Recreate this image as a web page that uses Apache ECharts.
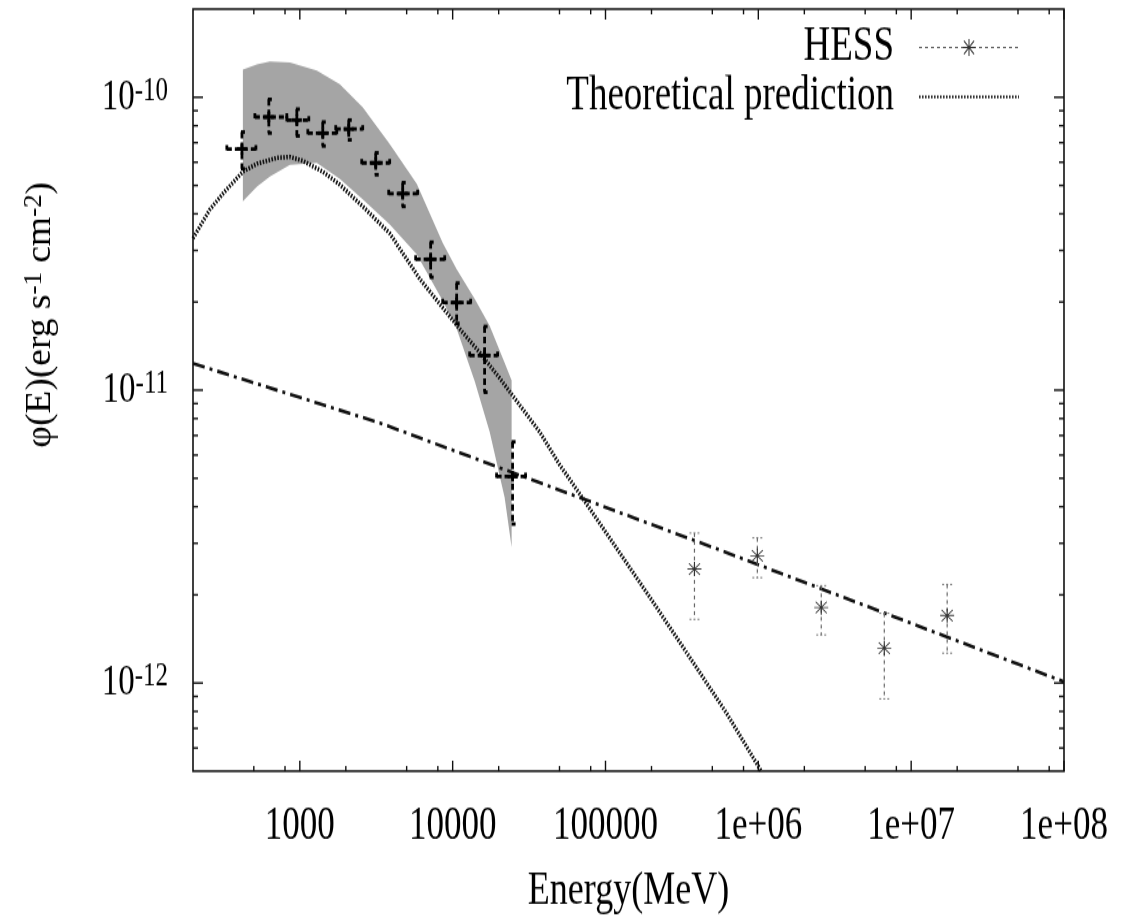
<!DOCTYPE html>
<html>
<head>
<meta charset="utf-8">
<script src="https://cdn.jsdelivr.net/npm/echarts@6/dist/echarts.min.js"></script>
<style>
  html, body { margin: 0; padding: 0; background: #fff; }
  #page { width: 1121px; height: 922px; position: relative; }
  /* the reference is stretched vertically, so draw at 1121x709 and scale up */
  #main { position: absolute; left: 0; top: 0; width: 1121px; height: 709px; transform: scaleY(1.3004); transform-origin: 0 0; }
</style>
</head>
<body>
<div id="page"><div id="main"></div></div>
<script>
// Fermi points (energy bins in MeV, flux in erg s^-1 cm^-2)
const fermiE = [418, 627, 956, 1413, 2090, 3138, 4711, 7178, 10620, 16180, 24660];
const fermiELow = [333, 508, 822, 1128, 1718, 2541, 3815, 5727, 8606, 12920, 19380];
const fermiEHigh = [516, 822, 1145, 1745, 2580, 3873, 5902, 8872, 13120, 19680, 29990];
const fermiFlux = [6.66e-11, 8.56e-11, 8.36e-11, 7.55e-11, 7.79e-11, 5.97e-11, 4.69e-11, 2.80e-11, 1.99e-11, 1.314e-11, 5.07e-12];
const fermiFluxLow = [5.70e-11, 7.55e-11, 7.38e-11, 6.82e-11, 7.15e-11, 5.44e-11, 4.24e-11, 2.43e-11, 1.69e-11, 9.84e-12, 3.49e-12];
const fermiFluxHigh = [7.61e-11, 9.84e-11, 9.11e-11, 8.23e-11, 8.36e-11, 6.46e-11, 5.11e-11, 3.20e-11, 2.32e-11, 1.65e-11, 6.66e-12];

// HESS points
const hessE = [3.82e5, 9.85e5, 2.58e6, 6.67e6, 1.72e7];
const hessFlux = [2.45e-12, 2.72e-12, 1.81e-12, 1.315e-12, 1.70e-12];
const hessFluxLow = [1.65e-12, 2.29e-12, 1.46e-12, 8.83e-13, 1.265e-12];
const hessFluxHigh = [3.25e-12, 3.13e-12, 2.15e-12, 1.73e-12, 2.17e-12];

// grey butterfly band
const bandE = [424, 524, 637, 861, 1292, 1826, 2580, 3873, 5818, 8606, 10620, 13930, 17460, 21880, 24310];
const bandHigh = [1.244e-10, 1.294e-10, 1.324e-10, 1.314e-10, 1.234e-10, 1.107e-10, 9.25e-11, 6.93e-11, 5.07e-11, 3.18e-11, 2.59e-11, 2.05e-11, 1.66e-11, 1.24e-11, 1.08e-11];
const bandLow = [4.41e-11, 4.95e-11, 5.36e-11, 5.88e-11, 5.97e-11, 5.27e-11, 4.48e-11, 3.68e-11, 2.91e-11, 2.02e-11, 1.62e-11, 1.073e-11, 7.21e-12, 4.3e-12, 2.91e-12];

// theoretical prediction (dotted)
const theoryE = [200, 258, 314, 424, 524, 708, 861, 1046, 1414, 1826, 2580, 3873, 6085, 8222, 11110, 15010, 20290, 27410, 37030, 50040, 91350, 194000, 318600, 617700, 1.047e6];
const theoryFlux = [3.30e-11, 4.14e-11, 4.69e-11, 5.57e-11, 5.93e-11, 6.21e-11, 6.26e-11, 6.07e-11, 5.57e-11, 5.03e-11, 4.24e-11, 3.43e-11, 2.40e-11, 1.97e-11, 1.62e-11, 1.345e-11, 1.099e-11, 8.90e-12, 7.21e-12, 5.57e-12, 3.52e-12, 1.97e-12, 1.335e-12, 7.91e-13, 4.99e-13];

// power law (dash-dot)
const powerE = [200, 3334, 555900, 1e8];
const powerFlux = [1.234e-11, 7.73e-12, 2.85e-12, 1.01e-12];

// tick positions
const xMajorTicks = [1000, 10000, 100000, 1e6, 1e7, 1e8];
const xMinorTicks = [500, 800, 2000, 5000, 8000, 2e4, 5e4, 8e4, 2e5, 5e5, 8e5, 2e6, 5e6, 8e6, 2e7, 5e7, 8e7];
const yMajorTicks = [1e-12, 1e-11, 1e-10];
const yMinorTicks = [6e-13, 7e-13, 8e-13, 9e-13, 2e-12, 3e-12, 4e-12, 5e-12, 6e-12, 7e-12, 8e-12, 9e-12,
  2e-11, 3e-11, 4e-11, 5e-11, 6e-11, 7e-11, 8e-11, 9e-11];

const FONT = "'Liberation Serif', 'DejaVu Serif', serif";
const ASTERISK = "path://M9.2,0L10.8,0L10.8,20L9.2,20Z M0,9.2L20,9.2L20,10.8L0,10.8Z " +
  "M1.5,2.6L2.6,1.5L18.5,17.4L17.4,18.5Z M17.4,1.5L18.5,2.6L2.6,18.5L1.5,17.4Z";

const chart = echarts.init(document.getElementById("main"));

const isDecade = (v) => {
  const l = Math.log10(v);
  return Math.abs(l - Math.round(l)) < 1e-6;
};

const line = (x1, y1, x2, y2, style) => ({ type: "line", shape: { x1, y1, x2, y2 }, style });

const option = {
  animation: false,
  backgroundColor: "#fff",
  grid: {
    left: 193,
    right: 57,
    top: 7,
    bottom: 110,
    show: true,
    borderColor: "#111",
    borderWidth: 1.6,
    backgroundColor: "transparent",
  },
  legend: {
    data: [
      { name: "HESS", lineStyle: { color: "#666", width: 1, type: [3, 3], opacity: 1 } },
      { name: "Theoretical prediction", itemStyle: { opacity: 0 } },
    ],
    orient: "vertical",
    align: "right",
    right: 101,
    top: 18,
    padding: 0,
    itemWidth: 100,
    itemHeight: 16,
    itemGap: 1,
    selectedMode: false,
    textStyle: { fontSize: 37, fontFamily: FONT, color: "#000", lineHeight: 30, padding: [0, 20, 0, 0] },
  },
  xAxis: {
    type: "log",
    logBase: 10,
    min: 200,
    max: 1e8,
    splitNumber: 6,
    axisLine: { show: false },
    axisTick: { show: false },
    splitLine: { show: false },
    axisLabel: {
      margin: 25,
      fontSize: 35,
      fontFamily: FONT,
      color: "#000",
      showMinLabel: false,
      showMaxLabel: true,
      formatter: (v) => {
        if (!isDecade(v)) return "";
        const n = Math.round(Math.log10(v));
        return n <= 5 ? String(Math.round(Math.pow(10, n))) : "1e+0" + n;
      },
    },
    name: "Energy(MeV)",
    nameLocation: "middle",
    nameGap: 75,
    nameTextStyle: { fontSize: 36, fontFamily: FONT, color: "#000" },
  },
  yAxis: {
    type: "log",
    logBase: 10,
    min: 5e-13,
    max: 2e-10,
    splitNumber: 3,
    axisLine: { show: false },
    axisTick: { show: false },
    splitLine: { show: false },
    axisLabel: {
      margin: 25,
      showMinLabel: false,
      showMaxLabel: false,
      formatter: (v) => {
        if (!isDecade(v)) return "";
        return "{b|10}{s|" + Math.round(Math.log10(v)) + "}";
      },
      rich: {
        b: { fontSize: 33, fontFamily: FONT, color: "#000", lineHeight: 34, verticalAlign: "bottom" },
        s: { fontSize: 25, fontFamily: FONT, color: "#000", lineHeight: 10, verticalAlign: "top" },
      },
    },
  },
  graphic: [
    {
      type: "text",
      x: 40,
      y: 242,
      rotation: Math.PI / 2,
      scaleX: 0.8,
      style: {
        text: "{n|φ(E)(erg s}{s|-1}{n| cm}{s|-2}{n|)}",
        align: "center",
        verticalAlign: "middle",
        rich: {
          n: { fontSize: 36, fontFamily: FONT, fill: "#000", lineHeight: 38, verticalAlign: "bottom" },
          s: { fontSize: 26, fontFamily: FONT, fill: "#000", lineHeight: 8, verticalAlign: "top" },
        },
      },
    },
  ],
  series: [
    {
      name: "band",
      type: "custom",
      z: 1,
      silent: true,
      data: bandE.map((e, i) => [e, bandLow[i], bandHigh[i]]),
      renderItem: (params, api) => {
        if (params.dataIndex !== 0) return;
        const top = bandE.map((e, i) => api.coord([e, bandHigh[i]]));
        const bottom = bandE.map((e, i) => api.coord([e, bandLow[i]])).reverse();
        return { type: "polygon", shape: { points: top.concat(bottom) }, style: { fill: "#a5a5a5" } };
      },
    },
    {
      name: "Theoretical prediction",
      type: "line",
      z: 2,
      symbol: "none",
      data: theoryE.map((e, i) => [e, theoryFlux[i]]),
      lineStyle: { color: "#111", width: 3.5, type: [1.6, 1.4] },
      itemStyle: { color: "#111" },
    },
    {
      name: "power law",
      type: "line",
      z: 2,
      symbol: "none",
      data: powerE.map((e, i) => [e, powerFlux[i]]),
      lineStyle: { color: "#111", width: 2.6, type: [12, 5, 3, 5] },
    },
    {
      name: "Fermi",
      type: "custom",
      z: 3,
      data: fermiE.map((e, i) => [e, fermiFlux[i], fermiELow[i], fermiEHigh[i], fermiFluxLow[i], fermiFluxHigh[i]]),
      renderItem: (params, api) => {
        const c = api.coord([api.value(0), api.value(1)]);
        const l = api.coord([api.value(2), api.value(1)]);
        const r = api.coord([api.value(3), api.value(1)]);
        const b = api.coord([api.value(0), api.value(4)]);
        const t = api.coord([api.value(0), api.value(5)]);
        const dashed = { stroke: "#000", lineWidth: 2.8, lineDash: [5, 3], fill: null };
        const solid = { stroke: "#000", lineWidth: 2.8, fill: null };
        return {
          type: "group",
          children: [
            line(l[0], c[1], r[0], c[1], dashed),
            line(c[0], t[1], c[0], b[1], dashed),
            line(c[0] - 5, c[1], c[0] + 5, c[1], solid),
            line(c[0], c[1] - 4, c[0], c[1] + 4, solid),
            line(l[0], c[1] - 3, l[0], c[1] + 1, solid),
            line(r[0], c[1] - 3, r[0], c[1] + 1, solid),
            line(c[0] - 1, t[1], c[0] + 3, t[1], solid),
            line(c[0] - 1, b[1], c[0] + 3, b[1], solid),
          ],
        };
      },
    },
    {
      name: "HESS bars",
      type: "custom",
      z: 3,
      data: hessE.map((e, i) => [e, hessFlux[i], hessFluxLow[i], hessFluxHigh[i]]),
      renderItem: (params, api) => {
        const b = api.coord([api.value(0), api.value(2)]);
        const t = api.coord([api.value(0), api.value(3)]);
        const st = { stroke: "#666", lineWidth: 1.2, lineDash: [3, 3], fill: null };
        const cap = { stroke: "#777", lineWidth: 1, lineDash: [2, 2], fill: null };
        return {
          type: "group",
          children: [
            line(t[0], t[1], b[0], b[1], st),
            line(t[0] - 5, t[1], t[0] + 5, t[1], cap),
            line(b[0] - 5, b[1], b[0] + 5, b[1], cap),
          ],
        };
      },
    },
    {
      name: "HESS",
      type: "line",
      z: 4,
      symbol: ASTERISK,
      symbolSize: [14, 11],
      showSymbol: true,
      data: hessE.map((e, i) => [e, hessFlux[i]]),
      itemStyle: { color: "#333" },
      lineStyle: { opacity: 0 },
    },
    {
      name: "x ticks",
      type: "custom",
      z: 5,
      silent: true,
      data: xMajorTicks.map((v) => [v, 1e-12, 1]).concat(xMinorTicks.map((v) => [v, 1e-12, 0])),
      renderItem: (params, api) => {
        const cs = params.coordSys;
        const p = api.coord([api.value(0), api.value(1)]);
        const len = api.value(2) ? 8 : 4;
        const st = { stroke: "#111", lineWidth: 1.4 };
        return {
          type: "group",
          children: [
            line(p[0], cs.y + cs.height, p[0], cs.y + cs.height - len, st),
            line(p[0], cs.y, p[0], cs.y + len, st),
          ],
        };
      },
    },
    {
      name: "y ticks",
      type: "custom",
      z: 5,
      silent: true,
      data: yMajorTicks.map((v) => [1000, v, 1]).concat(yMinorTicks.map((v) => [1000, v, 0])),
      renderItem: (params, api) => {
        const cs = params.coordSys;
        const p = api.coord([api.value(0), api.value(1)]);
        const len = api.value(2) ? 10 : 5;
        const st = { stroke: "#111", lineWidth: 1.4 };
        return {
          type: "group",
          children: [
            line(cs.x, p[1], cs.x + len, p[1], st),
            line(cs.x + cs.width, p[1], cs.x + cs.width - len, p[1], st),
          ],
        };
      },
    },
  ],
};

chart.setOption(option);
</script>
</body>
</html>
